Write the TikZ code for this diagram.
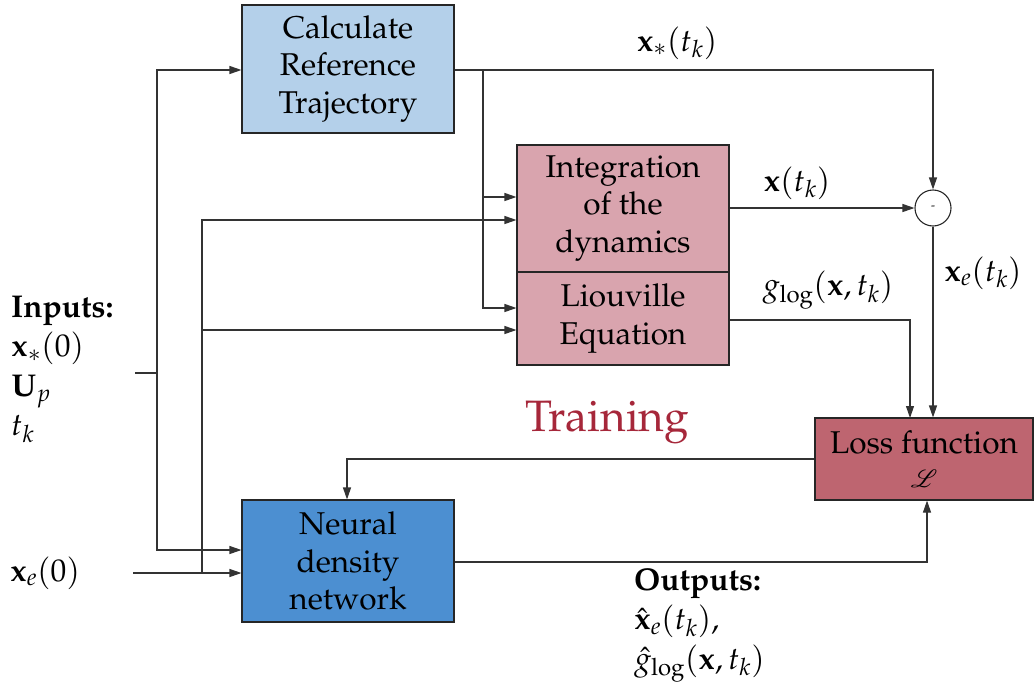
\documentclass[tikz,border=0pt]{standalone}
\usepackage[T1]{fontenc}
\usepackage{mathpazo}
\usepackage{mathrsfs}
\usetikzlibrary{arrows.meta}

\definecolor{refblue}{RGB}{180,208,234}
\definecolor{netblue}{RGB}{76,143,209}
\definecolor{dynpink}{RGB}{217,164,174}
\definecolor{losspink}{RGB}{190,101,112}
\definecolor{trainred}{RGB}{166,39,58}

\tikzset{
  block/.style={draw=black!85, line width=1.1pt, align=center, inner sep=0pt,
    font=\fontsize{31.5}{37.5}\selectfont},
  wire/.style={draw=black!80, line width=1.1pt},
  feed/.style={wire, -{Triangle[length=12pt,width=8pt]}},
  lbl/.style={font=\fontsize{31.5}{39.5}\selectfont, inner sep=0pt},
}

\begin{document}
\begin{tikzpicture}[x=1pt,y=-1pt]
\useasboundingbox (0,0) rectangle (1035,688);

% processing blocks
\node[block, fill=refblue, minimum width=212pt, minimum height=128pt] (ref) at (348,69)
  {Calculate\\Reference\\Trajectory};
\node[block, fill=dynpink, minimum width=212pt, minimum height=127pt] (dyn) at (623,208.5)
  {Integration\\of the\\dynamics};
\node[block, fill=dynpink, minimum width=212pt, minimum height=93pt] (liou) at (623,318.5)
  {Liouville\\Equation};
\node[block, fill=losspink, minimum width=218pt, minimum height=82pt] (loss) at (924,459)
  {Loss function\\[-4pt]$\mathscr{L}$};
\node[block, fill=netblue, minimum width=212pt, minimum height=122pt] (net) at (348,561)
  {Neural\\density\\network};
\node[draw=black!85, line width=1.1pt, circle, minimum size=36pt, inner sep=0pt,
  font=\fontsize{12}{12}\selectfont] (diff) at (933,208) {-};

% inputs and outputs
\node[lbl, anchor=north west, align=left] (inputs) at (11,296)
  {\textbf{Inputs:}\\$\mathbf{x}_{*}(0)$\\$\mathbf{U}_{p}$\\$t_{k}$};
\node[lbl, anchor=west] (xe0) at (10,573) {$\mathbf{x}_{e}(0)$};
\node[lbl, anchor=north west, align=left] (outputs) at (634,568)
  {\textbf{Outputs:}\\$\hat{\mathbf{x}}_{e}(t_{k})$,\\$\hat{g}_{\log}(\mathbf{x},t_{k})$};

\node[font=\fontsize{44}{50}\selectfont, text=trainred, inner sep=0pt] (train) at (607,422) {Training};

% junction points
\coordinate (inA) at (135,373);
\coordinate (inB) at (157,373);
\coordinate (xeA) at (133,573);
\coordinate (xeB) at (202,573);
\coordinate (refB) at (483,70);

% inputs bus
\draw[wire] (inA) -- (inB);
\draw[feed] (inB) |- (ref.west |- 0,70);
\draw[feed] (inB) |- (net.west |- 0,550);

% initial state bus
\draw[feed] (xeA) -- (net.west |- xeA);
\draw[feed] (xeB) |- (dyn.west |- 0,220);
\draw[feed] (xeB) |- (liou.west |- 0,330);

% reference trajectory outputs
\draw[wire] (ref.east |- refB) -- (refB);
\draw[feed] (refB) |- (dyn.west |- 0,197);
\draw[feed] (refB) |- (liou.west |- 0,308);
\draw[feed] (refB) -| (diff.north);

% state difference and loss inputs
\draw[feed] (dyn.east |- diff) -- (diff.west);
\draw[feed] (diff.south) -- (diff.south |- loss.north);
\draw[feed] (liou.east |- 0,320) -| (910,418);
\draw[feed] (loss.west) -| (net.north -| 347,0);
\draw[feed] (net.east |- 0,562) -| (loss.south -| 927,0);

% connector labels
\node[lbl] (lxs) at (677,43) {$\mathbf{x}_{*}(t_{k})$};
\node[lbl] (lx) at (797,183) {$\mathbf{x}(t_{k})$};
\node[lbl] (lg) at (828,290) {$g_{\log}(\mathbf{x},t_{k})$};
\node[lbl] (lxe) at (983,273) {$\mathbf{x}_{e}(t_{k})$};
\end{tikzpicture}
\end{document}
